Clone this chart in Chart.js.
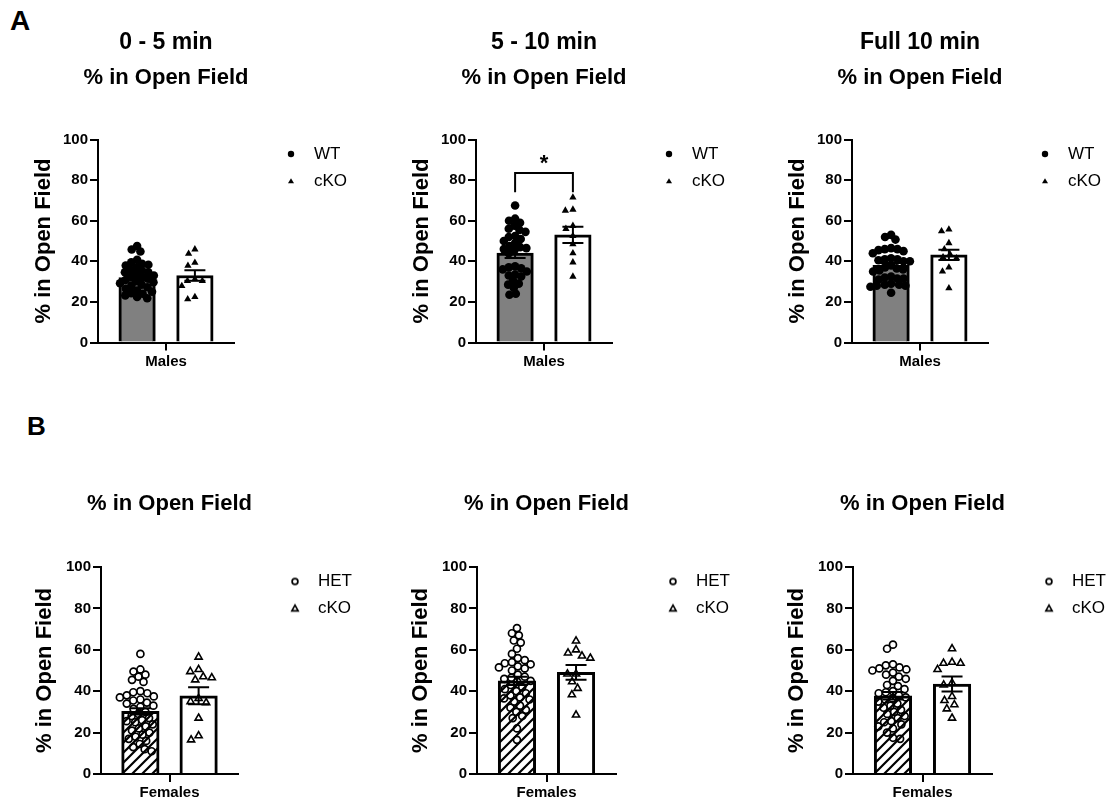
<!DOCTYPE html>
<html>
<head>
<meta charset="utf-8">
<script src="https://cdn.jsdelivr.net/npm/chart.js@4.4.1/dist/chart.umd.min.js"></script>
<style>
  html, body { margin: 0; padding: 0; background: #fff; width: 1111px; height: 804px; overflow: hidden; position: relative; font-family: 'Liberation Sans', Arial, sans-serif; }
  canvas { position: absolute; }
  .lbl { position: absolute; font-weight: bold; line-height: 1; color: #000; }
</style>
</head>
<body>
<div class="lbl" style="left:10px;top:7px;font-size:28px">A</div>
<div class="lbl" style="left:27px;top:413px;font-size:26px">B</div>
<canvas id="c0"></canvas>
<canvas id="c1"></canvas>
<canvas id="c2"></canvas>
<canvas id="c3"></canvas>
<canvas id="c4"></canvas>
<canvas id="c5"></canvas>
<script>
// ---------------- DATA ----------------
const TIME_WINDOWS = ['0 - 5 min', '5 - 10 min', 'Full 10 min'];
const MEASURE = '% in Open Field';
const Y_TICKS = [0, 20, 40, 60, 80, 100];
const SEX_A = ['Males'];
const SEX_B = ['Females'];
const GROUPS_A = ['WT', 'cKO'];
const GROUPS_B = ['HET', 'cKO'];

// individual animals, males
const A1_WT  = [47.5, 45.8, 44.8, 40.8, 39.5, 38.8, 38.3, 37.9, 37.1, 35.8, 35.5, 34.6, 34.6, 33.8, 33, 32.5, 31.8, 31.4, 30.8, 30.2, 29.7, 29.2, 28.5, 28.1, 27.2, 26.5, 25.6, 25, 24.3, 24, 23.2, 22.4, 21.8];
const A1_CKO = [45.9, 43.8, 39.3, 37.8, 31.2, 30.4, 30.4, 27.9, 22.5, 21.3];
const A2_WT  = [67.5, 61, 60, 59, 57.5, 56, 55.5, 54.5, 52.5, 52, 51, 50, 49, 47.5, 47, 46.5, 46, 45.5, 44, 37.5, 37, 36.5, 36, 35, 33.5, 33, 32.5, 30.5, 29, 28.5, 27, 24, 23.5];
const A2_CKO = [71.5, 65.5, 65, 57.5, 56, 52.5, 48.5, 44, 39.5, 32.5];
const A3_WT  = [53, 52, 50.7, 46.5, 46, 46, 45.5, 45, 44, 41.5, 41, 41, 40.5, 40, 40, 38, 37, 36.5, 36, 35.5, 35, 32.5, 32, 31.5, 31.5, 31, 29, 28.5, 28.5, 28, 28, 27.5, 24.5];
const A3_CKO = [55.7, 54.8, 49, 46, 43.5, 42, 41.5, 37, 35, 26.8];
// individual animals, females
const B1_HET = [58, 50.5, 49.5, 48, 47, 45.5, 44.5, 40, 39.5, 39, 38, 37.5, 37, 36, 35.5, 34.5, 34, 33, 32.5, 31.5, 30, 29, 28, 27, 26, 25.5, 25, 24, 23, 22, 21, 20, 19, 18, 17, 16, 14.5, 13, 12, 11];
const B1_CKO = [56.5, 50.5, 49.5, 47, 46.5, 45.5, 36.5, 35, 34.5, 27, 18.5, 16.5];
const B2_HET = [70.5, 68, 67, 64.5, 63.5, 60.5, 58, 56, 55, 54, 53.5, 53, 52, 51.5, 51, 50, 48, 47, 46.5, 46, 45, 44.5, 43, 42, 41, 40, 39, 38, 37, 36.5, 36, 35, 33, 32, 31, 30, 28, 27, 22, 16.5];
const B2_CKO = [64.3, 60, 58.5, 57, 56, 48.3, 48.3, 44.6, 41.4, 38.3, 28.5];
const B3_HET = [62.5, 60.5, 53, 52.5, 51.5, 51, 50.5, 50, 49, 48, 47, 46, 45, 43, 42.5, 41, 40, 39.5, 39, 38, 37, 36.5, 36, 35, 34, 33, 32, 31, 30, 29, 28, 27, 25.5, 25, 24, 23, 22, 20, 17.5, 17];
const B3_CKO = [60.5, 54, 53.5, 53.5, 50.5, 44, 43, 37.5, 35.5, 33.5, 31.5, 27];

// bar heights (mean) and SEM, per time window
const A_MEAN_WT  = [32, 44, 38];
const A_MEAN_CKO = [33, 53, 43.2];
const A_SEM_WT   = [1.3, 2.4, 1.2];
const A_SEM_CKO  = [2.6, 4.0, 2.5];
const B_MEAN_HET = [30.3, 45, 37.8];
const B_MEAN_CKO = [37.8, 49.1, 43.5];
const B_SEM_HET  = [1.5, 2.0, 1.8];
const B_SEM_CKO  = [4.1, 3.6, 3.6];

// significance (males, per time window)
const A_SIG = ['', '*', ''];
const SIG_BRACKET_TOP = 83.5;
const SIG_BRACKET_LEG = 74;

// group positions on the hidden within-category axis
const GROUP_POS = [-0.5, 0.5];

// ---------------- LAYOUT / STYLE ----------------
const FONT = "'Liberation Sans', Arial, sans-serif";
Chart.defaults.font.family = FONT;
Chart.defaults.color = '#000';

const CAT_PCT = 0.85;
const GEOM = [
  { left: 98,  right: 234 },
  { left: 476, right: 612 },
  { left: 852, right: 988 },
  { left: 101, right: 238 },
  { left: 477, right: 616 },
  { left: 853, right: 992 }
];

function hatchPattern() {
  const c = document.createElement('canvas');
  c.width = 10; c.height = 10;
  const g = c.getContext('2d');
  g.fillStyle = '#fff'; g.fillRect(0, 0, 10, 10);
  g.strokeStyle = '#000'; g.lineWidth = 2.2; g.lineCap = 'square';
  g.beginPath();
  g.moveTo(-5, 5); g.lineTo(5, -5);
  g.moveTo(0, 10); g.lineTo(10, 0);
  g.moveTo(5, 15); g.lineTo(15, 5);
  g.stroke();
  return g.createPattern(c, 'repeat');
}

function marker(kind) {
  const c = document.createElement('canvas');
  c.width = 14; c.height = 14;
  const g = c.getContext('2d');
  g.fillStyle = '#000'; g.strokeStyle = '#000';
  if (kind === 'dot') { g.beginPath(); g.arc(7, 7, 3.2, 0, Math.PI * 2); g.fill(); }
  else if (kind === 'tri') { g.beginPath(); g.moveTo(7, 4.2); g.lineTo(10, 9.3); g.lineTo(4, 9.3); g.closePath(); g.fill(); }
  else if (kind === 'ring') { g.lineWidth = 1.7; g.beginPath(); g.arc(7, 7, 2.9, 0, Math.PI * 2); g.stroke(); }
  else { g.lineWidth = 1.6; g.lineJoin = 'miter'; g.beginPath(); g.moveTo(7, 3.6); g.lineTo(10.2, 9.4); g.lineTo(3.8, 9.4); g.closePath(); g.stroke(); }
  return c;
}

// deterministic beeswarm: spreads points sideways only as much as needed to avoid overlap
function swarm(values, diam, pxPerUnit) {
  const order = values.map((v, i) => i).sort((a, b) => values[b] - values[a]);
  const placed = [];
  const out = new Array(values.length);
  for (const i of order) {
    const y = values[i] * pxPerUnit;
    const near = placed.filter(p => Math.abs(p.y - y) < diam);
    const cands = [0];
    for (const p of near) {
      const dx = Math.sqrt(diam * diam - (p.y - y) * (p.y - y));
      cands.push(p.x + dx, p.x - dx);
    }
    cands.sort((a, b) => (Math.abs(a) - Math.abs(b)) || (a - b));
    let x = 0;
    for (const c of cands) {
      if (near.every(p => (p.x - c) * (p.x - c) + (p.y - y) * (p.y - y) >= diam * diam - 1e-6)) { x = c; break; }
    }
    placed.push({ x, y });
    out[i] = x;
  }
  return out;
}

function errorBar(center, mean, sem, cap) {
  const hi = mean + sem, lo = mean - sem;
  return [
    { x: center - cap, y: hi }, { x: center + cap, y: hi }, { x: center, y: null },
    { x: center, y: hi }, { x: center, y: lo }, { x: center, y: null },
    { x: center - cap, y: lo }, { x: center + cap, y: lo }
  ];
}

const legendPlace = {
  id: 'legendPlace',
  afterLayout(chart) {
    const lg = chart.legend, a = chart.chartArea;
    lg.left = a.right + 32.5; lg.top = a.top - 4;
    lg.width = 140; lg.height = 80;
    lg.right = lg.left + 140; lg.bottom = lg.top + 80;
  }
};

function build(i) {
  const isA = i < 3, k = i % 3, geo = GEOM[i];
  const cw = geo.right - geo.left;
  const canvas = document.getElementById('c' + i);
  canvas.width = Math.round(cw + 235);
  canvas.height = isA ? 390 : 404;
  canvas.style.left = (geo.left - 95) + 'px';
  canvas.style.top = (isA ? 0 : 400) + 'px';

  const R = 1 / CAT_PCT;
  const slotPx = cw * CAT_PCT / 2;
  const pxPerUnit = isA ? 2.03 : 2.07;
  const barPx = isA ? 36.5 : 37.5;

  const ctrl = isA ? [A1_WT, A2_WT, A3_WT][k] : [B1_HET, B2_HET, B3_HET][k];
  const ko = isA ? [A1_CKO, A2_CKO, A3_CKO][k] : [B1_CKO, B2_CKO, B3_CKO][k];
  const mCtrl = isA ? A_MEAN_WT[k] : B_MEAN_HET[k];
  const mKo = isA ? A_MEAN_CKO[k] : B_MEAN_CKO[k];
  const sCtrl = isA ? A_SEM_WT[k] : B_SEM_HET[k];
  const sKo = isA ? A_SEM_CKO[k] : B_SEM_CKO[k];
  const groups = isA ? GROUPS_A : GROUPS_B;
  const sex = isA ? SEX_A : SEX_B;

  const dCtrl = isA ? 6.4 : 7.2, dKo = isA ? 7.6 : 8.6;
  const jc = swarm(ctrl, dCtrl, pxPerUnit), jk = swarm(ko, dKo, pxPerUnit);
  const ptsCtrl = ctrl.map((v, j) => ({ x: GROUP_POS[0] + jc[j] / slotPx, y: v }));
  const ptsKo = ko.map((v, j) => ({ x: GROUP_POS[1] + jk[j] / slotPx, y: v }));
  const cap = 10.5 / slotPx;

  const datasets = [
    { type: 'bar', label: groups[0], data: [{ x: GROUP_POS[0], y: mCtrl }], backgroundColor: isA ? '#808080' : hatchPattern(),
      borderColor: '#000', borderWidth: 3, grouped: false, barThickness: barPx, xAxisID: 'xs', yAxisID: 'y', order: 3 },
    { type: 'bar', label: groups[1], data: [{ x: GROUP_POS[1], y: mKo }], backgroundColor: '#fff',
      borderColor: '#000', borderWidth: 3, grouped: false, barThickness: barPx, xAxisID: 'xs', yAxisID: 'y', order: 3 },
    { type: 'scatter', label: groups[0] + ' animals', data: ptsCtrl, xAxisID: 'xs', yAxisID: 'y', order: 2,
      pointStyle: 'circle', pointRadius: isA ? 4.3 : 3.5, pointBorderWidth: isA ? 0 : 1.7,
      pointBackgroundColor: isA ? '#000' : 'rgba(0,0,0,0)', pointBorderColor: '#000',
      backgroundColor: isA ? '#000' : 'rgba(0,0,0,0)', borderColor: '#000' },
    { type: 'scatter', label: groups[1] + ' animals', data: ptsKo, xAxisID: 'xs', yAxisID: 'y', order: 2,
      pointStyle: 'triangle', pointRadius: isA ? 4.2 : 4.1, pointBorderWidth: isA ? 0 : 1.6,
      pointBackgroundColor: isA ? '#000' : 'rgba(0,0,0,0)', pointBorderColor: '#000',
      backgroundColor: isA ? '#000' : 'rgba(0,0,0,0)', borderColor: '#000' },
    { type: 'scatter', label: 'SEM', showLine: true, spanGaps: false,
      data: errorBar(GROUP_POS[0], mCtrl, sCtrl, cap).concat([{ x: 0, y: null }], errorBar(GROUP_POS[1], mKo, sKo, cap)),
      xAxisID: 'xs', yAxisID: 'y', order: 1, borderColor: '#000', borderWidth: 2, pointRadius: 0, fill: false }
  ];
  const sig = isA ? A_SIG[k] : '';
  if (sig) {
    datasets.push({ type: 'scatter', label: 'comparison', showLine: true, data: [
        { x: GROUP_POS[0], y: SIG_BRACKET_LEG }, { x: GROUP_POS[0], y: SIG_BRACKET_TOP },
        { x: GROUP_POS[1], y: SIG_BRACKET_TOP }, { x: GROUP_POS[1], y: SIG_BRACKET_LEG }],
      xAxisID: 'xs', yAxisID: 'y', order: 1, borderColor: '#000', borderWidth: 2, pointRadius: 0, fill: false });
  }

  const sigStar = {
    id: 'sigStar',
    afterDatasetsDraw(chart) {
      if (!sig) return;
      const ctx = chart.ctx;
      ctx.save();
      ctx.font = 'bold 22px ' + FONT;
      ctx.fillStyle = '#000'; ctx.textAlign = 'center'; ctx.textBaseline = 'middle';
      ctx.fillText(sig, chart.scales.xs.getPixelForValue(0), chart.scales.y.getPixelForValue(SIG_BRACKET_TOP) - 9.5);
      ctx.restore();
    }
  };

  const markers = isA ? [marker('dot'), marker('tri')] : [marker('ring'), marker('otri')];

  new Chart(canvas, {
    type: 'bar',
    data: { labels: sex, datasets },
    plugins: [legendPlace, sigStar],
    options: {
      responsive: false, maintainAspectRatio: false, animation: false, events: [],
      layout: { padding: { left: 25, right: 70, top: 0, bottom: 0 } },
      plugins: {
        tooltip: { enabled: false },
        title: isA
          ? { display: true, text: TIME_WINDOWS[k], fullSize: true, color: '#000', font: { size: 23, weight: 'bold', lineHeight: 1.2 }, padding: { top: 28.4, bottom: 0 } }
          : { display: true, text: MEASURE, fullSize: true, color: '#000', font: { size: 22, weight: 'bold', lineHeight: 1.2 }, padding: { top: 90.5, bottom: 50.1 } },
        subtitle: isA
          ? { display: true, text: MEASURE, fullSize: true, color: '#000', font: { size: 22, weight: 'bold', lineHeight: 1.2 }, padding: { top: 8.6, bottom: 48.5 } }
          : { display: false },
        legend: {
          display: true, position: 'right', align: 'start', fullSize: false, maxWidth: 70,
          labels: {
            usePointStyle: true, pointStyleWidth: 29, padding: 10, color: '#000',
            font: { size: 17, weight: 'normal' },
            generateLabels: () => groups.map((g, j) => ({
              text: g, pointStyle: markers[j], fillStyle: '#000', strokeStyle: '#000', lineWidth: 0,
              hidden: false, datasetIndex: j, fontColor: '#000'
            }))
          }
        }
      },
      scales: {
        x: {
          type: 'category', offset: true, position: 'bottom',
          grid: { display: true, drawOnChartArea: false, drawTicks: true, tickLength: 8, color: '#000', lineWidth: 2, offset: false },
          border: { display: true, color: '#000', width: 2 },
          ticks: { color: '#000', font: { size: 15, weight: 'bold' }, padding: 2, maxRotation: 0 },
          afterFit: s => { s.height = isA ? 47.5 : 30; }
        },
        xs: { type: 'linear', display: false, offset: false, grid: { offset: false }, bounds: 'data', min: -R, max: R },
        y: {
          type: 'linear', position: 'left',
          min: Y_TICKS[0], max: Y_TICKS[Y_TICKS.length - 1],
          grid: { display: true, drawOnChartArea: false, drawTicks: true, tickLength: 8, color: '#000', lineWidth: 2 },
          border: { display: true, color: '#000', width: 2 },
          ticks: { stepSize: Y_TICKS[1] - Y_TICKS[0], color: '#000', font: { size: 15, weight: 'bold' }, padding: 2 },
          title: { display: true, text: MEASURE, color: '#000', font: { size: 22, weight: 'bold', lineHeight: 1.2 }, padding: { top: isA ? 2.8 : 0.8, bottom: 0 } },
          afterFit: s => { s.width = 70; }
        }
      }
    }
  });
}

for (let i = 0; i < 6; i++) build(i);
</script>
</body>
</html>
